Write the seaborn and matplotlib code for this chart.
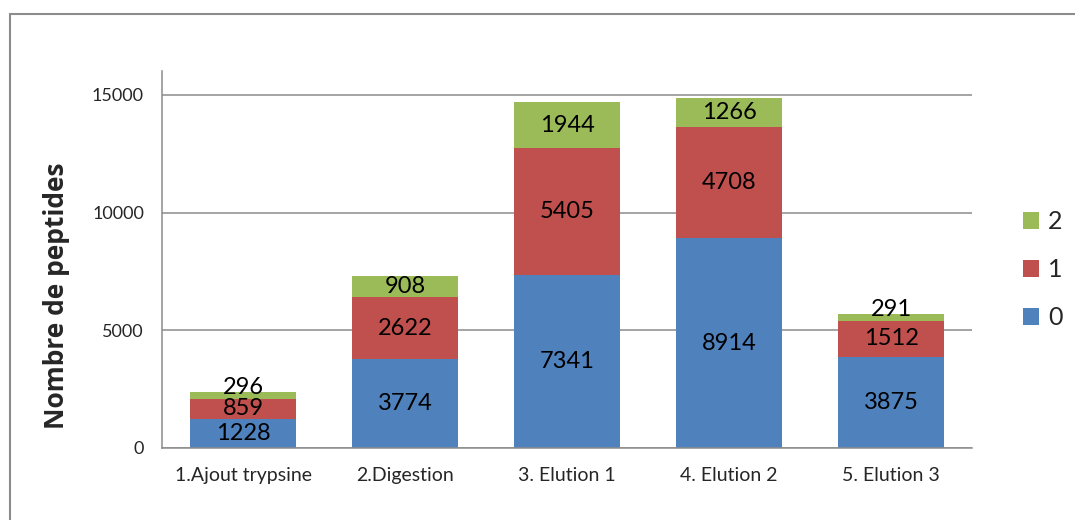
import matplotlib
matplotlib.use("Agg")
import matplotlib.pyplot as plt
from matplotlib.lines import Line2D
import numpy as np
import pandas as pd
import seaborn as sns

# Peptide counts per step, stacked by number of missed cleavages
steps = ["1.Ajout trypsine", "2.Digestion", "3. Elution 1", "4. Elution 2", "5. Elution 3"]
series_names = ["0", "1", "2"]
counts_0 = [1228, 3774, 7341, 8914, 3875]
counts_1 = [859, 2622, 5405, 4708, 1512]
counts_2 = [296, 908, 1944, 1266, 291]
y_ticks = [0, 5000, 10000, 15000]

colors = {"0": "#4F81BD", "1": "#C0504D", "2": "#9BBB59"}

sns.set_theme(style="white")
plt.rcParams["font.family"] = ["Lato", "DejaVu Sans"]

df = pd.DataFrame({"step": steps, "0": counts_0, "1": counts_1, "2": counts_2})

fig = plt.figure(figsize=(10.75, 5.2), dpi=100)
ax = fig.add_axes([0.1507, 0.1385, 0.9042 - 0.1507, 0.8627 - 0.1385])

for t in y_ticks:
    ax.axhline(t, color="#8c8c8c", lw=1.1, zorder=0)

# Stacked bars: draw cumulative totals from the top series down so each
# lower segment covers the one above it.
cum = df[series_names].cumsum(axis=1)
handles = {}
for name in reversed(series_names):
    sns.barplot(x=df["step"], y=cum[name], color=colors[name], width=0.65,
                ax=ax, saturation=1, errorbar=None, zorder=2,
                edgecolor="none", linewidth=0)
    handles[name] = ax.containers[-1]

# value labels centred in each segment
bottom = np.zeros(len(steps))
for name in series_names:
    vals = df[name].to_numpy(dtype=float)
    for i, (b, v) in enumerate(zip(bottom, vals)):
        yc = b + v / 2
        if v < 400:
            yc += 350
        ax.text(i, yc, f"{int(v)}", ha="center", va="center",
                fontsize=17, color="black", zorder=5)
    bottom = bottom + vals

ax.set_xlim(-0.5, len(steps) - 0.5)
ax.set_ylim(0, 16000)
ax.set_xticks(np.arange(len(steps)))
ax.set_xticklabels(steps, fontsize=14)
ax.set_yticks(y_ticks)
ax.set_yticklabels([str(t) for t in y_ticks], fontsize=13)
ax.tick_params(axis="x", length=0, pad=14)
ax.tick_params(axis="y", length=0, pad=13)
ax.set_xlabel("")
ax.set_ylabel("")
fig.text(56 / 1075, 1 - 296 / 520, "Nombre de peptides", rotation=90,
         ha="center", va="center", fontsize=19, fontweight="bold",
         family=["Open Sans", "DejaVu Sans"])

for side in ["top", "right"]:
    ax.spines[side].set_visible(False)
for side in ["left", "bottom"]:
    ax.spines[side].set_color("#8c8c8c")
    ax.spines[side].set_linewidth(1.1)

ax.legend([handles[n] for n in ["2", "1", "0"]], ["2", "1", "0"],
          loc="center left", bbox_to_anchor=(1.063, 0.473), frameon=False,
          borderpad=0, borderaxespad=0,
          fontsize=18, handlelength=0.65, handleheight=0.65,
          labelspacing=1.0, handletextpad=0.35)

# outer chart frame
fig.add_artist(Line2D([0.0093, 1.0], [1 - 14 / 520, 1 - 14 / 520], color="#8c8c8c", lw=1.5))
fig.add_artist(Line2D([0.0093, 0.0093], [0.0, 1 - 14 / 520], color="#8c8c8c", lw=1.5))

fig.savefig("out.png", dpi=100)
